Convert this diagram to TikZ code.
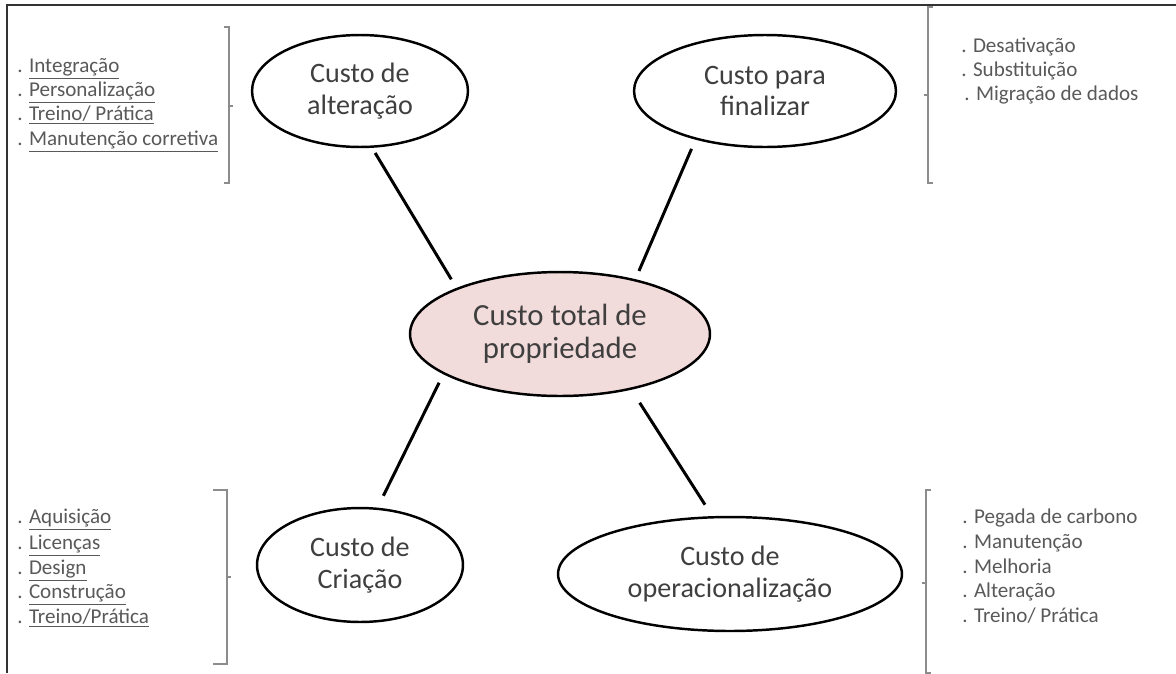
\documentclass[tikz,border=0pt]{standalone}
\usepackage{fontspec}
\setmainfont{Carlito}
\usetikzlibrary{shapes.geometric}
\definecolor{pinkfill}{HTML}{F2DCDB}
\definecolor{labelgray}{HTML}{3F3F3F}
\definecolor{itemgray}{HTML}{595959}
\tikzset{
  cost/.style={shape=ellipse, draw=black, line width=1.4pt, inner sep=0pt, align=center, text=labelgray, font=\fontsize{16}{18}\selectfont},
  link/.style={line width=1.7pt, black},
  brack/.style={draw=black!45, line width=0.8pt},
  item/.style={anchor=base west, inner sep=0pt, text=itemgray, font=\fontsize{12}{14}\selectfont}
}
\newcommand{\brackR}[5]{\draw[brack] ( #1 - #5 , #2 ) -- ( #1 , #2 ) -- ( #1 , #3 ) -- ( #1 - #5 , #3 ); \draw[brack] ( #1 , #4 ) -- ( #1 + 4 , #4 );}
\newcommand{\brackL}[5]{\draw[brack] ( #1 + #5 , #2 ) -- ( #1 , #2 ) -- ( #1 , #3 ) -- ( #1 + #5 , #3 ); \draw[brack] ( #1 , #4 ) -- ( #1 - 4 , #4 );}
\begin{document}
\begin{tikzpicture}[x=0.02cm, y=-0.02cm]

        \useasboundingbox (0,0) rectangle (1176,673);

        % frame
        \draw[line width=1.1pt, black!80] (7,673) -- (7,5) -- (1176,5);

        % costs
        \node[cost, fill=pinkfill, font=\fontsize{17.5}{18.5}\selectfont, minimum width=6.0cm, minimum height=2.48cm] (tot) at (560,334) {Custo total de\\propriedade};
        \node[cost, minimum width=4.32cm, minimum height=2.24cm] (alt) at (360,91) {Custo de\\alteração};
        \node[cost, minimum width=5.24cm, minimum height=2.24cm] (fin) at (765,91) {Custo para\\finalizar};
        \node[cost, minimum width=4.12cm, minimum height=2.28cm] (cri) at (360,565) {Custo de\\Criação};
        \node[cost, minimum width=6.88cm, minimum height=2.28cm] (opr) at (730,574) {Custo de\\operacionalização};

        \draw[link, shorten <=3.4pt, shorten >=5.7pt] (alt.-78) -- (tot.156);
        \draw[link, shorten <=5.7pt, shorten >=5.1pt] (fin.-145) -- (tot.36);
        \draw[link, shorten <=5.4pt, shorten >=7.5pt] (tot.-161) -- (cri.73);
        \draw[link, shorten <=8.8pt, shorten >=7.7pt] (tot.-38) -- (opr.107);

        % brackets
        \brackR{229}{27}{183}{106}{5}
        \brackL{928}{7}{183}{95}{5}
        \brackR{227}{490}{664}{577}{14}
        \brackL{926}{490}{673}{583}{5}

        % alteracao
        \node[item] (alt1) at (17,72) {. \underline{Integração}};
        \node[item] (alt2) at (17,96) {. \underline{Personalização}};
        \node[item] (alt3) at (17,120) {. \underline{Treino/ Prática}};
        \node[item] (alt4) at (17,145) {. \underline{Manutenção corretiva}};

        % finalizar
        \node[item] (fin1) at (961,52) {. Desativação};
        \node[item] (fin2) at (961,76) {. Substituição};
        \node[item] (fin3) at (964,100) {. Migração de dados};

        % criacao
        \node[item] (cri1) at (17,523) {. \underline{Aquisição}};
        \node[item] (cri2) at (17,549) {. \underline{Licenças}};
        \node[item] (cri3) at (17,574) {. \underline{Design}};
        \node[item] (cri4) at (17,598) {. \underline{Construção}};
        \node[item] (cri5) at (17,623) {. \underline{Treino/Prática}};

        % operacionalizacao
        \node[item] (opr1) at (962,523) {. Pegada de carbono};
        \node[item] (opr2) at (962,548) {. Manutenção};
        \node[item] (opr3) at (962,573) {. Melhoria};
        \node[item] (opr4) at (962,597) {. Alteração};
        \node[item] (opr5) at (962,622) {. Treino/ Prática};

    \end{tikzpicture}
\end{document}
